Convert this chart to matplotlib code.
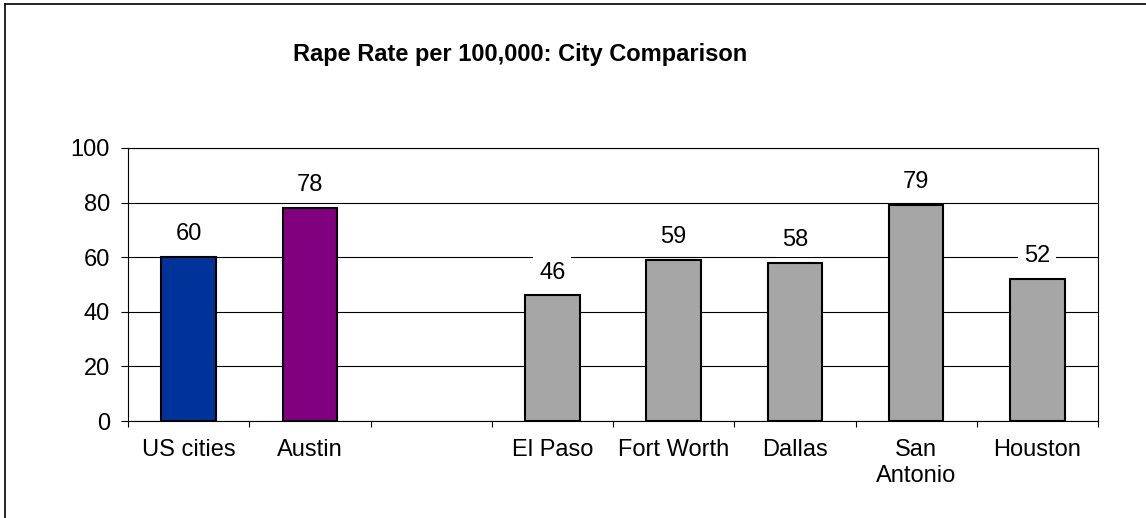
import matplotlib
matplotlib.use("Agg")
import matplotlib.pyplot as plt
from matplotlib.lines import Line2D
import numpy as np

categories = ["US cities", "Austin", "", "El Paso", "Fort Worth", "Dallas", "San\nAntonio", "Houston"]
values = [60, 78, None, 46, 59, 58, 79, 52]
bar_colors = ["#003399", "#800080", "#A6A6A6", "#A6A6A6", "#A6A6A6", "#A6A6A6", "#A6A6A6", "#A6A6A6"]
yticks = [0, 20, 40, 60, 80, 100]
title = "Rape Rate per 100,000: City Comparison"

plt.rcParams['font.family'] = ['Liberation Sans', 'DejaVu Sans']

fig = plt.figure(figsize=(11.46, 5.18), dpi=100)
ax = fig.add_axes([128/1146, 1-421/518, (1098-128)/1146, (421-148)/518])

x = np.arange(len(categories))
for xi, v, c in zip(x, values, bar_colors):
    if v is None:
        continue
    ax.bar(xi, v, width=0.45, color=c, edgecolor="black", linewidth=1.5, zorder=3)
    ax.annotate(f"{v}", (xi, v), xytext=(0, 16.5), textcoords="offset points",
                ha="center", va="center", fontsize=17, zorder=5,
                bbox=dict(boxstyle="square,pad=0.25", fc="white", ec="none"))

ax.set_xlim(-0.5, len(categories) - 0.5)
ax.set_ylim(0, 100)
ax.set_yticks(yticks)
ax.yaxis.grid(True, color="black", linewidth=0.8, zorder=0)
ax.set_axisbelow(True)

ax.set_xticks(x)
ax.set_xticklabels(categories, fontsize=17, linespacing=1.25)
ax.set_xticks(np.arange(len(categories) + 1) - 0.5, minor=True)
ax.tick_params(axis="x", which="major", length=0, pad=13)
ax.tick_params(axis="x", which="minor", length=4.5, width=0.8, direction="out")
ax.tick_params(axis="y", labelsize=17, length=5, width=0.8, pad=8, direction="out")

for s in ax.spines.values():
    s.set_color("black")
    s.set_linewidth(0.8)

fig.text(520/1146, 1-54/518, title, ha="center", va="center", fontsize=17, fontweight="bold")

fig.add_artist(Line2D([4.5/1146, 4.5/1146], [0, 1-3.5/518], transform=fig.transFigure, color="black", linewidth=1.2))
fig.add_artist(Line2D([4.5/1146, 1], [1-3.5/518, 1-3.5/518], transform=fig.transFigure, color="black", linewidth=1.2))

fig.savefig("out.png", dpi=100)
